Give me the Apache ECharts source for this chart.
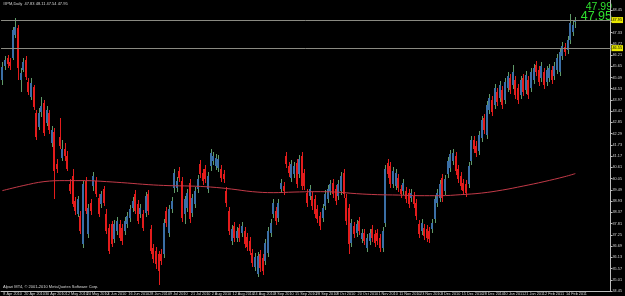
<!DOCTYPE html>
<html>
<head>
<meta charset="utf-8">
<style>
  html, body { margin: 0; padding: 0; background: #000; }
  #chart { width: 625px; height: 296px; }
</style>
<script src="https://cdn.jsdelivr.net/npm/echarts@6/dist/echarts.min.js"></script>
</head>
<body>
<div id="chart"></div>
<script>
// daily bars, one per trading day: [open, close, low, high]
const candles = [
  [44.95,45.60,44.70,45.85],[45.65,45.95,45.45,46.15],[46.05,45.75,45.55,46.20],[45.85,45.65,45.45,46.05],[46.05,47.45,45.95,47.60],[47.20,47.60,47.05,48.05],
  [47.55,45.55,44.95,47.70],[44.95,45.30,44.35,45.55],[45.45,45.85,45.35,46.05],[45.95,45.10,44.95,46.15],[44.85,44.35,44.20,45.05],[44.10,44.80,43.95,45.05],
  [44.60,43.60,43.45,44.70],[43.30,42.10,41.95,43.45],[42.60,43.30,42.45,43.55],[43.35,43.65,43.10,44.10],[43.80,42.30,42.15,43.95],[42.80,43.45,42.65,43.65],
  [43.30,42.45,42.25,43.45],[41.80,42.45,41.65,42.65],[42.35,40.45,39.05,42.55],[40.80,40.55,40.35,41.05],[42.10,41.70,41.55,43.05],[41.10,41.55,40.95,41.95],
  [41.55,41.20,40.95,41.80],[41.20,40.55,40.45,41.45],[39.80,39.45,39.30,40.05],[40.20,38.80,38.65,40.55],[38.95,38.45,38.25,39.15],[38.30,39.05,38.15,39.20],
  [38.20,37.45,37.30,38.45],[36.80,39.80,36.60,39.95],[39.95,38.45,38.30,40.15],[37.30,38.60,37.10,38.80],[38.85,38.45,38.25,39.05],[39.70,40.20,39.45,40.40],
  [39.95,39.30,39.15,40.15],[39.10,38.30,38.15,39.30],[38.80,39.30,38.60,39.45],[39.55,38.85,38.70,39.70],[38.30,37.45,37.30,38.55],[37.60,36.45,36.30,37.80],
  [37.80,36.80,36.65,37.95],[37.05,37.80,36.85,38.00],[37.45,37.95,37.25,38.15],[37.80,37.10,36.95,38.00],[37.60,36.95,36.75,37.80],[37.45,37.95,37.25,38.15],
  [37.80,38.20,37.60,38.40],[38.10,38.55,37.90,38.75],[38.60,38.95,38.40,39.15],[39.30,38.45,38.30,39.50],[38.80,37.95,37.80,39.00],[38.30,38.60,38.10,38.80],
  [38.30,37.60,37.45,38.50],[38.35,39.20,38.15,39.40],[39.30,38.45,38.25,39.50],[37.55,36.45,36.30,37.75],[36.60,36.05,35.85,36.80],[36.45,35.80,35.55,36.65],
  [36.30,35.45,34.75,36.45],[36.30,35.95,35.75,36.55],[36.30,37.85,36.10,38.05],[38.45,37.85,37.65,38.65],[37.35,38.55,37.15,38.75],[38.55,38.95,38.35,39.15],
  [39.60,40.35,39.35,40.55],[39.60,39.95,39.40,40.15],[40.45,40.10,39.90,40.65],[39.95,38.10,37.90,40.15],[38.30,39.05,37.80,39.20],[38.60,39.35,38.40,39.55],
  [39.85,38.05,37.85,40.05],[38.35,39.10,38.15,39.30],[38.80,39.45,38.60,39.65],[39.55,40.05,39.35,40.25],[40.80,40.30,40.10,41.00],[40.35,39.95,39.75,40.55],
  [40.55,40.05,39.85,40.75],[39.55,40.20,39.35,40.40],[40.70,41.35,40.45,41.55],[40.95,41.20,40.75,41.40],[40.70,41.10,40.50,41.30],[40.60,41.05,40.40,41.25],
  [40.55,40.10,39.90,40.75],[40.30,40.05,39.85,40.50],[39.45,38.85,38.65,39.65],[38.45,37.45,37.25,38.65],[36.95,37.55,36.75,37.75],[37.70,37.10,36.90,37.90],
  [37.10,37.45,36.90,37.65],[37.60,37.10,36.90,37.80],[37.35,37.70,37.15,37.90],[37.45,36.80,36.60,37.65],[37.15,36.65,36.45,37.35],[36.95,36.45,36.25,37.15],
  [36.35,35.85,35.65,36.55],[35.65,36.15,35.45,36.35],[35.30,36.20,35.15,36.40],[36.30,35.60,35.40,36.50],[36.10,35.45,35.25,36.30],[35.95,36.85,35.75,37.05],
  [36.35,37.45,36.15,37.65],[37.35,37.85,37.15,38.05],[38.30,38.85,38.10,39.05],[38.45,37.95,37.75,38.65],[38.10,38.85,37.90,39.05],[39.55,39.85,39.35,40.05],
  [39.70,39.45,39.25,39.90],[41.20,40.80,40.60,41.40],[40.70,40.35,40.15,40.90],[40.10,40.80,39.90,41.00],[40.30,40.70,40.10,40.90],[40.85,39.80,39.60,41.05],
  [40.30,41.05,40.10,41.25],[41.20,39.70,39.50,41.40],[40.35,39.70,39.50,40.55],[39.35,38.85,38.65,39.55],[39.20,39.55,39.00,39.75],[39.20,38.70,38.50,39.40],
  [39.05,38.30,38.10,39.25],[38.55,38.05,37.85,38.75],[38.20,37.70,37.50,38.40],[38.10,38.60,37.90,38.80],[38.70,39.30,38.50,39.50],[39.05,39.55,38.85,39.75],
  [39.45,39.80,39.25,40.00],[39.85,39.30,39.10,40.05],[39.55,38.95,38.75,39.75],[39.20,39.80,39.00,40.00],[39.45,40.20,39.25,40.40],[40.35,39.30,39.10,40.55],
  [39.10,37.95,37.75,39.30],[38.60,36.80,36.30,38.80],[36.85,37.85,36.65,38.05],[37.70,37.30,37.10,37.90],[37.35,37.80,37.15,38.00],[37.95,37.45,37.25,38.15],
  [37.05,37.35,36.85,37.55],[37.35,36.95,36.75,37.55],[36.60,37.10,36.40,37.30],[36.95,37.35,36.75,37.55],[37.55,37.10,36.90,37.75],[37.30,36.85,36.65,37.50],
  [37.35,36.95,36.75,37.55],[37.10,36.60,36.40,37.30],[36.60,37.45,36.40,37.65],[37.85,40.55,37.65,40.75],[40.85,40.30,40.10,41.05],[40.70,39.80,39.60,40.90],
  [39.80,40.45,39.60,40.65],[39.70,40.35,39.50,40.55],[40.10,39.60,39.40,40.30],[39.55,39.30,39.10,39.75],[39.45,39.85,39.25,40.05],[39.45,39.05,38.85,39.65],
  [39.35,38.80,38.60,39.55],[39.10,39.35,38.90,39.55],[39.20,38.80,38.60,39.40],[38.85,38.20,38.00,39.05],[37.80,37.30,37.10,38.00],[37.45,37.85,37.25,38.05],
  [37.60,37.20,37.00,37.80],[37.55,37.10,36.90,37.75],[37.45,37.05,36.85,37.65],[37.55,37.85,37.35,38.05],[38.05,39.05,37.85,39.25],[38.85,39.35,38.65,39.55],
  [39.10,39.80,38.90,40.00],[40.10,39.10,38.90,40.30],[39.45,40.05,39.25,40.25],[40.30,40.95,40.10,41.15],[40.60,41.30,40.40,41.50],[40.95,41.35,40.75,41.55],
  [41.20,40.45,40.25,41.40],[40.55,40.05,39.85,40.75],[40.20,39.70,39.50,40.40],[39.85,39.45,39.25,40.05],[39.80,39.35,39.15,40.00],[39.80,40.70,39.60,40.90],
  [40.95,41.95,40.75,42.15],[41.95,41.55,41.35,42.15],[41.70,41.35,41.15,41.90],[41.45,42.20,41.25,42.40],[42.05,42.95,41.85,43.15],[43.05,42.45,42.25,43.25],
  [42.20,43.70,42.00,43.90],[43.45,44.05,43.25,44.25],[43.95,43.35,43.15,44.15],[43.70,44.55,43.50,44.75],[44.35,43.85,43.65,44.55],[44.05,44.70,43.85,44.90],
  [44.45,43.70,43.50,44.65],[43.95,44.85,43.75,45.05],[44.55,45.15,44.35,45.35],[45.05,44.45,44.25,45.25],[44.70,45.35,44.50,45.70],[44.95,44.20,44.00,45.15],
  [44.55,43.95,43.75,44.75],[44.20,44.95,44.00,45.15],[45.05,44.35,44.15,45.25],[44.45,45.20,44.25,45.40],[44.95,44.20,44.00,45.15],[44.55,45.35,44.35,45.55],
  [44.95,45.55,44.75,45.75],[45.70,45.35,45.15,45.90],[45.45,44.85,44.65,45.65],[45.05,45.65,44.85,45.85],[45.35,44.70,44.50,45.55],[44.85,45.45,44.65,45.65],
  [45.05,45.55,44.85,45.75],[45.45,44.95,44.75,45.65],[45.15,45.65,44.95,45.85],[45.45,46.05,45.25,46.25],[45.35,46.35,45.15,46.55],[46.15,46.65,45.95,46.85],
  [46.60,46.35,46.15,46.80],[46.45,46.95,46.25,47.15],[46.95,47.80,46.75,48.25],[47.35,47.70,47.15,47.95],[47.83,47.95,47.54,48.11]
];

// moving average read at every 8th bar: [bar index, value]
const maPoints = [
  [0,39.45],[8,39.70],[16,39.90],[24,39.95],[32,39.95],[40,39.90],[48,39.83],[56,39.75],
  [64,39.70],[72,39.68],[80,39.63],[88,39.53],[96,39.40],[104,39.35],[112,39.38],[120,39.40],
  [128,39.38],[136,39.30],[144,39.25],[152,39.23],[160,39.20],[168,39.20],[176,39.25],[184,39.33],
  [192,39.48],[200,39.68],[208,39.90],[216,40.15],[220,40.30]
];

const dateLabels = [
  '8 Apr 2010','20 Apr 2010','30 Apr 2010','12 May 2010','24 May 2010','4 Jun 2010','16 Jun 2010',
  '28 Jun 2010','9 Jul 2010','21 Jul 2010','2 Aug 2010','12 Aug 2010','24 Aug 2010','3 Sep 2010',
  '15 Sep 2010','28 Sep 2010','8 Oct 2010','20 Oct 2010','1 Nov 2010','11 Nov 2010','23 Nov 2010',
  '3 Dec 2010','15 Dec 2010','28 Dec 2010','10 Jan 2011','21 Jan 2011','2 Feb 2011','14 Feb 2011'
];

const bidPrice = 47.95;
const askPrice = 47.99;
const levelPrice = 46.55;
const headerText = '#IPM,Daily  47.83 48.11 47.54 47.95';
const footerText = 'Alpari MT4, \u00a9 2001-2010 MetaQuotes Software Corp.';

// empty slots on the right = chart shift
const slotCount = 234;
const slots = Array.from({ length: slotCount }, (_, i) => String(i));

const bullBody = '#3b6fa6';
const bearBody = '#e41c1c';
const bullWick = '#5f9a68';
const bearWick = '#e41c1c';
const axisColor = '#bdbdbd';
const textColor = '#d8d8d8';
const tinyFont = 'Liberation Sans';

const chart = echarts.init(document.getElementById('chart'), null, { renderer: 'canvas' });

const everyEighth = (index) => index % 8 === 0 && index / 8 < dateLabels.length;

function renderCandle(params, api) {
  const i = api.value(0);
  const open = api.value(1), close = api.value(2), low = api.value(3), high = api.value(4);
  const x = Math.round(api.coord([i, open])[0]);
  const yO = api.coord([i, open])[1];
  const yC = api.coord([i, close])[1];
  const yL = Math.round(api.coord([i, low])[1]);
  const yH = Math.round(api.coord([i, high])[1]);
  const up = close >= open;
  const top = Math.round(Math.min(yO, yC));
  const bot = Math.round(Math.max(yO, yC));
  return {
    type: 'group',
    children: [
      {
        type: 'rect',
        shape: { x: x, y: yH, width: 1, height: Math.max(1, yL - yH) },
        style: { fill: up ? bullWick : bearWick }
      },
      {
        type: 'rect',
        shape: { x: x - 1, y: top, width: 2, height: Math.max(1, bot - top) },
        style: { fill: up ? bullBody : bearBody }
      }
    ]
  };
}

const option = {
  backgroundColor: '#000',
  animation: false,
  grid: { left: 1, right: 13, top: 0, bottom: 5 },
  xAxis: {
    type: 'category',
    data: slots,
    boundaryGap: true,
    axisLine: { lineStyle: { color: axisColor, width: 1 } },
    axisTick: { interval: everyEighth, alignWithLabel: true, length: 2, lineStyle: { color: axisColor } },
    axisLabel: {
      interval: everyEighth,
      formatter: (value) => dateLabels[Number(value) / 8] || '',
      color: textColor,
      fontSize: 3.8,
      fontFamily: tinyFont,
      align: 'left',
      margin: 1,
      padding: [0, 0, 0, 1]
    },
    splitLine: { show: false }
  },
  yAxis: {
    type: 'value',
    position: 'right',
    min: 34.45,
    max: 48.95,
    interval: 0.56,
    axisLine: { show: true, lineStyle: { color: axisColor, width: 1 } },
    axisTick: { show: true, length: 2, lineStyle: { color: axisColor } },
    axisLabel: {
      color: textColor,
      fontSize: 3.8,
      fontFamily: tinyFont,
      margin: 2,
      showMaxLabel: false,
      formatter: (v) => v.toFixed(2)
    },
    splitLine: { show: false }
  },
  series: [
    {
      type: 'custom',
      name: 'price',
      renderItem: renderCandle,
      data: candles.map((c, i) => [i, c[0], c[1], c[2], c[3]]),
      encode: { x: 0, y: [1, 2, 3, 4] },
      z: 2,
      markLine: {
        silent: true,
        symbol: 'none',
        lineStyle: { color: '#8a8a82', width: 1, type: 'solid' },
        label: {
          position: 'end',
          distance: 1,
          formatter: (p) => p.value.toFixed(2),
          color: '#000',
          backgroundColor: '#e8e800',
          fontSize: 3.8,
          fontFamily: tinyFont,
          padding: [1, 1]
        },
        data: [{ yAxis: bidPrice }, { yAxis: levelPrice }]
      }
    },
    {
      type: 'line',
      name: 'MA',
      data: maPoints,
      smooth: 0.4,
      showSymbol: false,
      lineStyle: { color: '#c23a48', width: 1 },
      z: 3
    }
  ],
  graphic: [
    {
      type: 'text',
      left: 3,
      top: 2,
      style: { text: headerText, fill: textColor, font: '4px ' + tinyFont }
    },
    {
      type: 'text',
      left: 3,
      top: 285,
      style: { text: footerText, fill: textColor, font: '4px ' + tinyFont }
    },
    {
      type: 'text',
      right: 13,
      top: 2,
      style: { text: askPrice.toFixed(2), fill: '#2fe02f', font: '10.5px "Liberation Sans"', align: 'right' }
    },
    {
      type: 'text',
      right: 13,
      top: 10,
      style: { text: bidPrice.toFixed(2), fill: '#2fe02f', font: '12.5px "Liberation Sans"', align: 'right' }
    }
  ]
};

chart.setOption(option);
window.addEventListener('resize', () => chart.resize());
</script>
</body>
</html>
